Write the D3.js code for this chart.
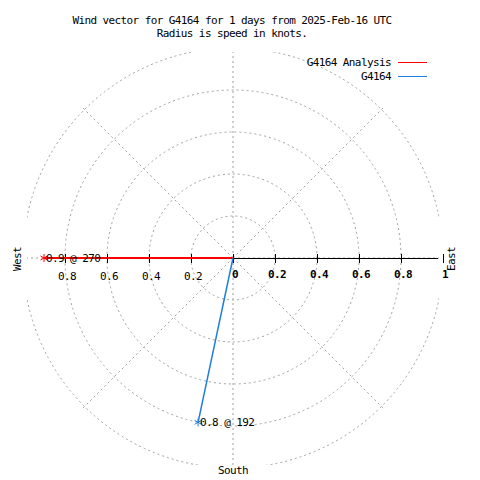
<!DOCTYPE html>
<html><head><meta charset="utf-8">
<script src="https://cdn.jsdelivr.net/npm/d3@7"></script>
<style>
html,body{margin:0;padding:0;background:#fff;}
text{font-family:"DejaVu Sans Mono",monospace;font-size:11px;letter-spacing:-0.6px;fill:#000;}
</style></head>
<body>
<script>
// ---- data ----
const titleLines = ["Wind vector for G4164 for 1 days from 2025-Feb-16 UTC", "Radius is speed in knots."];
const seriesNames = ["G4164 Analysis", "G4164"];
const speeds = [0.9, 0.8];
const directions = [270, 192];
const ringValues = [0.2, 0.4, 0.6, 0.8, 1.0];
const spokeAngles = [0, 45, 90, 135, 180, 225, 270, 315];
const tickValues = [-0.8, -0.6, -0.4, -0.2, 0, 0.2, 0.4, 0.6, 0.8, 1];
const compassLabels = ["West", "East", "South"];

// ---- styles ----
const colors = ["#ff0000", "#1f7ee0"];
const W = 480, H = 480, cx = 233, cy = 258, R = 210, clipHalf = 206;

const svg = d3.select("body").append("svg").attr("width", W).attr("height", H);
const r = d3.scaleLinear().domain([0, 1]).range([0, R]);
const x = d3.scaleLinear().domain([-1, 1]).range([cx - R, cx + R]);

svg.append("defs").append("clipPath").attr("id", "sq").append("rect")
  .attr("x", cx - clipHalf).attr("y", cy - clipHalf).attr("width", 2 * clipHalf).attr("height", 2 * clipHalf + 1);

const grid = svg.append("g").attr("clip-path", "url(#sq)")
  .attr("fill", "none").attr("stroke", "#a0a0a0").attr("stroke-width", 1).attr("stroke-dasharray", "2,3");
grid.selectAll("circle").data(ringValues).join("circle")
  .attr("cx", cx).attr("cy", cy).attr("r", d => r(d));
grid.selectAll("line").data(spokeAngles).join("line")
  .attr("x1", cx).attr("y1", cy)
  .attr("x2", d => cx + r(1.01) * Math.sin(d * Math.PI / 180))
  .attr("y2", d => cy - r(1.01) * Math.cos(d * Math.PI / 180));

// axis
svg.append("line").attr("x1", cx).attr("x2", cx + r(0.976)).attr("y1", cy + 0.5).attr("y2", cy + 0.5)
  .attr("stroke", "#000").attr("shape-rendering", "crispEdges");
const axis = svg.append("g").attr("transform", `translate(0,${cy})`)
  .call(d3.axisBottom(x).tickValues(tickValues).tickSize(0).tickFormat(""));
axis.select(".domain").remove();
axis.selectAll(".tick line").attr("y1", -4).attr("y2", 5).attr("stroke", "#000").attr("shape-rendering", "crispEdges");
const lab = svg.append("g");
tickValues.forEach(v => {
  const t = d3.format("~g")(Math.abs(v));
  lab.append("text").attr("x", x(v) + 2).attr("y", cy + (v >= 0 ? 16 : 18)).attr("dy", "0.35em")
    .attr("text-anchor", "middle").attr("font-weight", v >= 0 ? "bold" : null).text(t);
});

// vectors
const pts = speeds.map((s, i) => {
  const a = directions[i] * Math.PI / 180;
  return {x: cx + r(s) * Math.sin(a), y: cy - r(s) * Math.cos(a), s, d: directions[i], c: colors[i]};
});
const star = d3.symbol().type(d3.symbolAsterisk).size(45);
pts.forEach((p, i) => {
  svg.append("line").attr("x1", cx).attr("y1", cy).attr("x2", p.x).attr("y2", p.y)
    .attr("stroke", p.c).attr("stroke-width", i === 0 ? 2 : 1.5);
  svg.append("path").attr("d", star).attr("transform", `translate(${p.x},${p.y})`)
    .attr("fill", "none").attr("stroke", p.c).attr("stroke-width", 1);
  svg.append("text").attr("x", p.x + 2).attr("y", p.y).attr("dy", "0.35em").text(`${p.s} @ ${p.d}`);
});

// compass labels
svg.append("text").attr("transform", `translate(${cx - 216},${cy + 1}) rotate(-90)`).attr("dy", "0.35em").attr("text-anchor", "middle").text(compassLabels[0]);
svg.append("text").attr("transform", `translate(${cx + 218},${cy + 1}) rotate(-90)`).attr("dy", "0.35em").attr("text-anchor", "middle").text(compassLabels[1]);
svg.append("text").attr("x", cx).attr("y", cy + 212).attr("dy", "0.35em").attr("text-anchor", "middle").text(compassLabels[2]);

// title
titleLines.forEach((t, i) => svg.append("text").attr("x", 232).attr("y", 20 + i * 13).attr("dy", "0.35em").attr("text-anchor", "middle").text(t));

// legend
seriesNames.forEach((n, i) => {
  const y = 62 + i * 14;
  svg.append("text").attr("x", 391).attr("y", y).attr("dy", "0.35em").attr("text-anchor", "end").text(n);
  svg.append("line").attr("x1", 398).attr("x2", 427).attr("y1", y + 0.5).attr("y2", y + 0.5)
    .attr("stroke", colors[i]).attr("stroke-width", 1).attr("shape-rendering", "crispEdges");
});
</script>
</body></html>
